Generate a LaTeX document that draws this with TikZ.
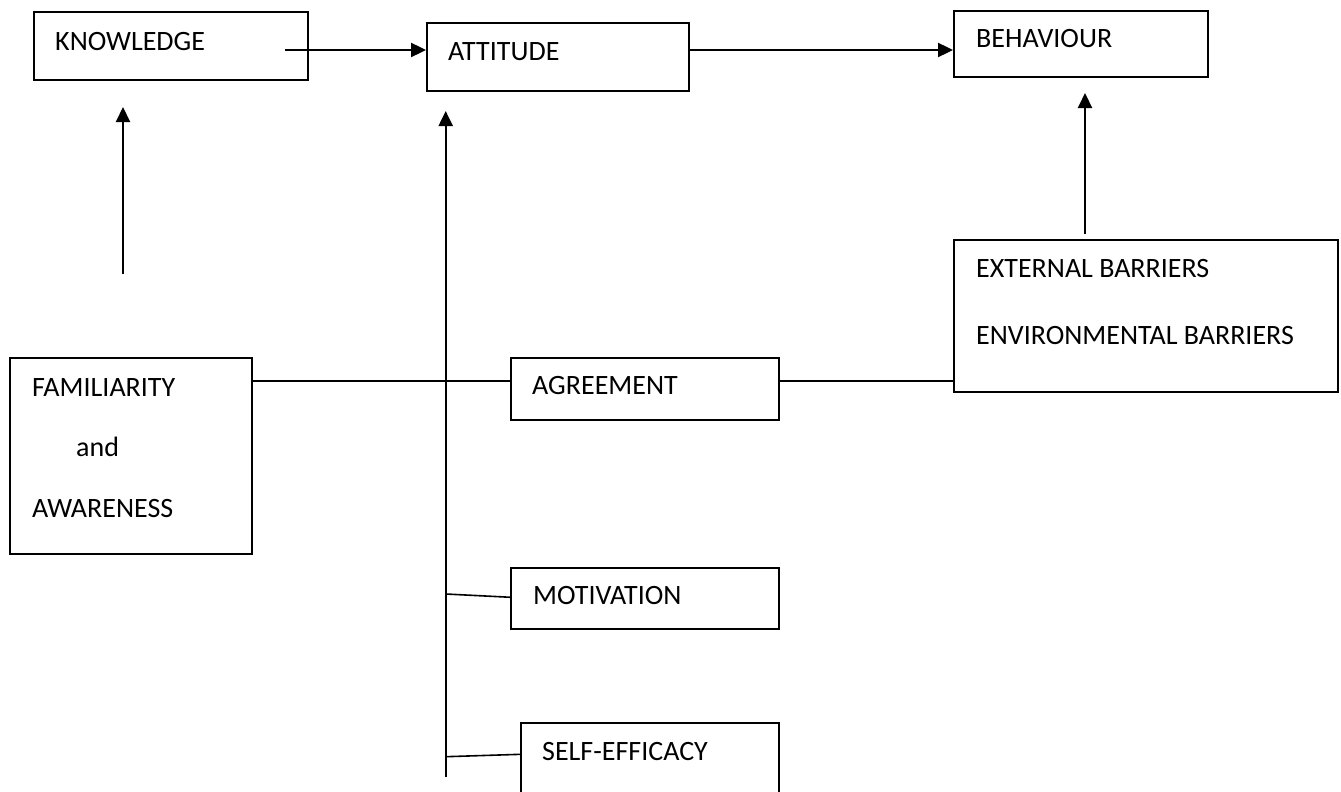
\documentclass[tikz,border=0pt]{standalone}
\usepackage{fontspec}
\setmainfont{Carlito}
\usetikzlibrary{arrows.meta,calc}
\begin{document}
\begin{tikzpicture}[x=1pt,y=-1pt,
  box/.style={draw=black,line width=1.9pt,inner sep=0pt},
  lbl/.style={anchor=base west,inner sep=0pt,font=\fontsize{28}{33}\selectfont},
  conn/.style={draw=black,line width=2.1pt},
  arr/.style={conn,-{Triangle[length=15pt,width=14pt]}}]
\useasboundingbox (0,0) rectangle (1341,792);
% boxes
\node[box,minimum width=274pt,minimum height=68pt] (know) at (171,46) {};
\node[box,minimum width=262pt,minimum height=68pt] (att) at (558,57) {};
\node[box,minimum width=254pt,minimum height=66pt] (beh) at (1081,44) {};
\node[box,minimum width=384pt,minimum height=152pt] (bar) at (1146,316) {};
\node[box,minimum width=242pt,minimum height=196pt] (fam) at (131,456) {};
\node[box,minimum width=268pt,minimum height=62pt] (agr) at (645,389) {};
\node[box,minimum width=268pt,minimum height=61pt] (mot) at (645,598.5) {};
\node[box,minimum width=258pt,minimum height=70pt] (self) at (650,758) {};
% texts
\node[lbl] (knowT) at (55,51) {KNOWLEDGE};
\node[lbl] (attT) at (448,61) {ATTITUDE};
\node[lbl] (behT) at (976,48) {BEHAVIOUR};
\node[lbl] (barT1) at (976,277) {EXTERNAL BARRIERS};
\node[lbl] (barT2) at (976,344) {ENVIRONMENTAL BARRIERS};
\node[lbl] (famT1) at (32,396) {FAMILIARITY};
\node[lbl] (famT2) at (76,456) {and};
\node[lbl] (famT3) at (32,517) {AWARENESS};
\node[lbl] (agrT) at (532,394) {AGREEMENT};
\node[lbl] (motT) at (533,604) {MOTIVATION};
\node[lbl] (selfT) at (542,760) {SELF-EFFICACY};
% coordinates
\coordinate (k1) at (285,50);
\coordinate (a1) at (689,50);
\coordinate (f1) at (123,274);
\coordinate (f2) at (123,107);
\coordinate (v1) at (445.7,777);
\coordinate (v2) at (445.7,111);
\coordinate (b1) at (1085,234);
\coordinate (b2) at (1085,93);
\coordinate (m1) at (445.7,594);
\coordinate (m2) at (511,597.3);
\coordinate (s1) at (445.7,756.7);
\coordinate (s2) at (521,754.3);
\coordinate (h1) at (252,381);
\coordinate (h2) at (779,381);
% connectors
\draw[arr] (k1) -- (k1 -| att.west);
\draw[arr] (a1) -- (a1 -| beh.west);
\draw[arr] (f1) -- (f2);
\draw[arr] (v1) -- (v2);
\draw[arr] (b1) -- (b2);
\draw[conn] (h1) -- (h1 -| agr.west);
\draw[conn] (h2) -- (h2 -| bar.west);
\draw[conn,line width=1.6pt] (m1) -- (m2);
\draw[conn,line width=1.6pt] (s1) -- (s2);
\end{tikzpicture}
\end{document}
